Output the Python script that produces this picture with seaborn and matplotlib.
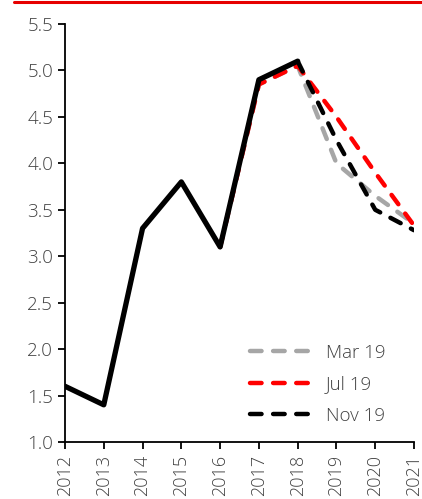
import numpy as np
import pandas as pd
import matplotlib
matplotlib.use("Agg")
import matplotlib.pyplot as plt
from matplotlib.lines import Line2D
import seaborn as sns

# dane
years_hist = [2012, 2013, 2014, 2015, 2016, 2017, 2018]
hist = [1.6, 1.4, 3.3, 3.8, 3.1, 4.9, 5.1]

years_fc = [2016, 2017, 2018, 2019, 2020, 2021]
mar19 = [3.1, 4.85, 5.05, 4.0, 3.65, 3.35]
jul19 = [3.1, 4.85, 5.05, 4.5, 3.9, 3.33]

years_nov = [2018, 2019, 2020, 2021]
nov19 = [5.1, 4.25, 3.5, 3.28]

x_ticks = list(range(2012, 2022))
y_ticks = [1.0, 1.5, 2.0, 2.5, 3.0, 3.5, 4.0, 4.5, 5.0, 5.5]

sns.set_style("ticks")
plt.rcParams['font.family'] = ['Open Sans', 'DejaVu Sans']
plt.rcParams['font.weight'] = 'light'

fig = plt.figure(figsize=(4.22, 4.99), dpi=100)
ax = fig.add_axes([65 / 422, 1 - 442 / 499, (414 - 65) / 422, (442 - 24) / 499])

dash = (2.6, 2.6)
lw = 3.2
sns.lineplot(x=years_fc, y=mar19, ax=ax, color='#a6a6a6', lw=lw, label='Mar 19')
sns.lineplot(x=years_fc, y=jul19, ax=ax, color='#ff0000', lw=lw, label='Jul 19')
sns.lineplot(x=years_nov, y=nov19, ax=ax, color='black', lw=lw, label='Nov 19')
sns.lineplot(x=years_hist, y=hist, ax=ax, color='black', lw=3.8, legend=False)

for line in ax.lines[:3]:
    line.set_dashes(dash)
    line.set_dash_capstyle('round')

ax.set_xlim(2012, 2021)
ax.set_ylim(1.0, 5.5)
ax.set_xticks(x_ticks)
ax.set_xticklabels([str(y) for y in x_ticks], rotation=90)
ax.set_yticks(y_ticks)
ax.set_yticklabels([f"{v:.1f}" for v in y_ticks])
ax.tick_params(labelsize=13.5, labelcolor='#404040', length=5, width=1.3, color='black')
ax.tick_params(axis='x', labelsize=13, pad=4)
for s in ['left', 'bottom']:
    ax.spines[s].set_linewidth(1.3)
    ax.spines[s].set_color('black')
sns.despine(ax=ax)
ax.set_xlabel('')
ax.set_ylabel('')

leg = ax.legend(loc='upper left', bbox_to_anchor=(0.53, 0.235), frameon=False,
                borderpad=0, borderaxespad=0,
                fontsize=13.5, handlelength=3.7, labelspacing=0.72, handletextpad=0.35)
for t in leg.get_texts():
    t.set_color('#404040')
for h in leg.get_lines():
    h.set_dashes(dash)
    h.set_dash_capstyle('round')

fig.add_artist(Line2D([14 / 422, 1.0], [1 - 1.5 / 499, 1 - 1.5 / 499],
                      color='#e60000', lw=2.2, transform=fig.transFigure))

fig.savefig('out.png', dpi=100)
